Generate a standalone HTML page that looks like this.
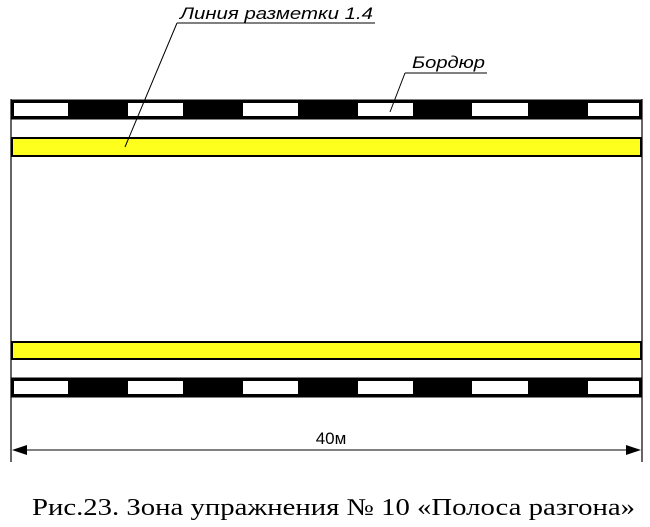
<!DOCTYPE html>
<html><head><meta charset="utf-8"><style>html,body{margin:0;padding:0;background:#fff}svg{display:block}
.s{font-family:"Liberation Sans",Arial,sans-serif}
.r{font-family:"Liberation Serif","Times New Roman",serif}
</style></head>
<body>
<svg width="650" height="527" viewBox="0 0 650 527" xmlns="http://www.w3.org/2000/svg">
<rect width="650" height="527" fill="#fff"/>
<line x1="11" y1="99" x2="11" y2="462" stroke="#000" stroke-width="1.2"/>
<line x1="642" y1="99" x2="642" y2="462" stroke="#000" stroke-width="1.2"/>
<rect x="11" y="99.5" width="631" height="20" fill="#000"/>
<g fill="#fff">
<rect x="14" y="103" width="54" height="13"/>
<rect x="128" y="103" width="55" height="13"/>
<rect x="243" y="103" width="55" height="13"/>
<rect x="358" y="103" width="55" height="13"/>
<rect x="472" y="103" width="56" height="13"/>
<rect x="588" y="103" width="51" height="13"/>
</g>
<rect x="12" y="138" width="629" height="18" fill="#ffff1e" stroke="#000" stroke-width="2"/>
<rect x="12" y="342" width="629" height="17" fill="#ffff1e" stroke="#000" stroke-width="2"/>
<rect x="11" y="377.5" width="631" height="20" fill="#000"/>
<g fill="#fff">
<rect x="14" y="381" width="54" height="13"/>
<rect x="128" y="381" width="55" height="13"/>
<rect x="243" y="381" width="55" height="13"/>
<rect x="358" y="381" width="55" height="13"/>
<rect x="472" y="381" width="56" height="13"/>
<rect x="588" y="381" width="51" height="13"/>
</g>
<line x1="14" y1="450" x2="639" y2="450" stroke="#000" stroke-width="1"/>
<polygon points="12,450 27,445 27,455" fill="#000"/>
<polygon points="641,450 626,445 626,455" fill="#000"/>
<text class="s" x="331" y="444" font-size="17" text-anchor="middle">40м</text>
<text class="s" x="180" y="19" font-style="italic" font-size="17" textLength="193" lengthAdjust="spacingAndGlyphs">Линия разметки 1.4</text>
<line x1="177" y1="23" x2="375" y2="23" stroke="#000" stroke-width="1"/>
<line x1="177" y1="23" x2="125" y2="147" stroke="#000" stroke-width="1"/>
<text class="s" x="412" y="68" font-style="italic" font-size="17" textLength="73" lengthAdjust="spacingAndGlyphs">Бордюр</text>
<line x1="405" y1="73" x2="487" y2="73" stroke="#000" stroke-width="1"/>
<line x1="405" y1="73" x2="390" y2="112" stroke="#000" stroke-width="1"/>
<text class="r" x="32" y="515" font-size="24" textLength="603" lengthAdjust="spacingAndGlyphs">Рис.23. Зона упражнения № 10 «Полоса разгона»</text>
</svg>
</body></html>
